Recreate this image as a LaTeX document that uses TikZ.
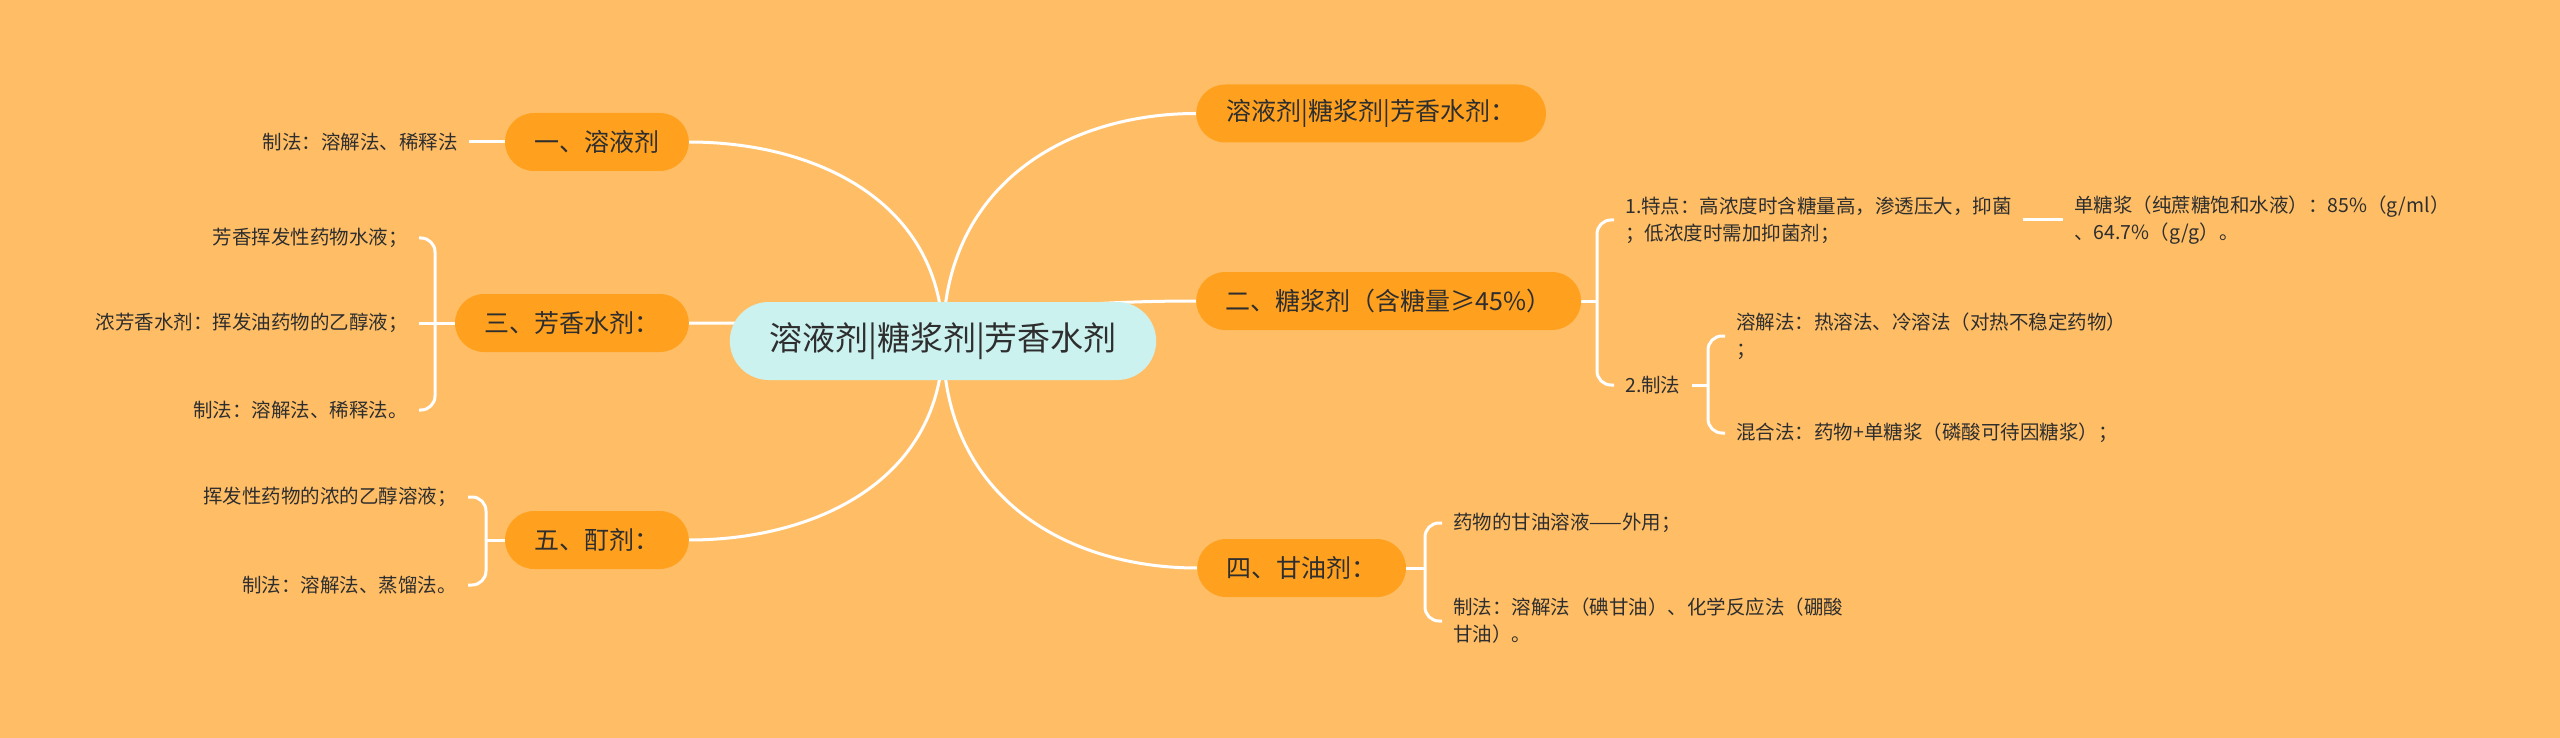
\documentclass[tikz,border=0pt]{standalone}
\usepackage{fontspec}
\setmainfont{Noto Sans CJK SC}
\usepackage{xcolor}
\usetikzlibrary{backgrounds,shapes.misc}

\definecolor{bgorange}{HTML}{FFBE66}
\definecolor{topicorange}{HTML}{FFA11F}
\definecolor{rootcyan}{HTML}{CCF2F0}
\definecolor{textdark}{HTML}{2E2E2E}

\begin{document}
\begin{tikzpicture}[
    x=1pt, y=-1pt,
    root/.style={
      rounded rectangle, fill=rootcyan, minimum width=433pt,
      minimum height=78pt, text=textdark,
      font=\fontsize{33}{40}\selectfont
    },
    topic/.style={
      rounded rectangle, fill=topicorange, minimum height=58pt,
      inner xsep=27pt, text=textdark,
      font=\fontsize{25}{30}\selectfont
    },
    leaf/.style={
      inner xsep=11pt, inner ysep=0pt, align=left, text=textdark,
      font=\fontsize{19.5}{27}\selectfont
    },
    branch/.style={draw=white, line width=3pt},
    brace/.style={branch, rounded corners=14pt}
  ]
    \useasboundingbox (0,0) rectangle (2560,738);

    % Root
    \node[root] (root) at (943,341) {溶液剂|糖浆剂|芳香水剂};

    % Left: 一
    \node[topic, anchor=east] (rongye) at (689,142) {一、溶液剂};
    \node[leaf, anchor=east] (rongyeA) at (469,142) {制法：溶解法、稀释法};

    % Left: 三
    \node[topic, anchor=east] (fangxiang) at (689,323) {三、芳香水剂：};
    \coordinate (fangxiangJ) at (435,323);
    \node[leaf, anchor=east] (fangxiangA) at (419,238) {芳香挥发性药物水液；};
    \node[leaf, anchor=east] (fangxiangB) at (419,323) {浓芳香水剂：挥发油药物的乙醇液；};
    \node[leaf, anchor=east] (fangxiangC) at (419,410) {制法：溶解法、稀释法。};

    % Left: 五
    \node[topic, anchor=east] (dingji) at (689,540) {五、酊剂：};
    \coordinate (dingjiJ) at (486,540);
    \node[leaf, anchor=east] (dingjiA) at (468,497) {挥发性药物的浓的乙醇溶液；};
    \node[leaf, anchor=east] (dingjiB) at (468,585) {制法：溶解法、蒸馏法。};

    % Right: summary
    \node[topic, anchor=west] (summary) at (1196,113.5) {溶液剂|糖浆剂|芳香水剂：};

    % Right: 二
    \node[topic, anchor=west, minimum width=376pt] (tangjiang) at (1196,301) {二、糖浆剂（含糖量≥45\%）};
    \coordinate (tangjiangJ) at (1597,301);
    \node[leaf, anchor=west] (tedian) at (1614,220) {1.特点：高浓度时含糖量高，渗透压大，抑菌\\；低浓度时需加抑菌剂；};
    \node[leaf, anchor=west] (dantang) at (2063,220) {单糖浆（纯蔗糖饱和水液）：85\%（g/ml）\\、64.7\%（g/g）。};
    \node[leaf, anchor=west] (zhifa) at (1614,385) {2.制法};
    \coordinate (zhifaJ) at (1708,385);
    \node[leaf, anchor=west] (rongjie) at (1725,336) {溶解法：热溶法、冷溶法（对热不稳定药物）\\；};
    \node[leaf, anchor=west] (hunhe) at (1725,433) {混合法：药物+单糖浆（磷酸可待因糖浆）；};

    % Right: 四
    \node[topic, anchor=west] (ganyou) at (1197,568) {四、甘油剂：};
    \coordinate (ganyouJ) at (1425,568);
    \node[leaf, anchor=west] (ganyouA) at (1442,523) {药物的甘油溶液——外用；};
    \node[leaf, anchor=west] (ganyouB) at (1442,621) {制法：溶解法（碘甘油）、化学反应法（硼酸\\甘油）。};

    \begin{scope}[on background layer]
      \fill[bgorange] (0,0) rectangle (2560,738);

      % main branches
      \draw[branch] (rongye.east) .. controls +(127,0) and +(0,-139) .. (root.center);
      \draw[branch] (fangxiang.east) .. controls +(127,0) and +(0,-13) .. (root.center);
      \draw[branch] (dingji.east) .. controls +(127,0) and +(0,139) .. (root.center);
      \draw[branch] (summary.west) .. controls +(-126,0) and +(0,-159) .. (root.center);
      \draw[branch] (tangjiang.west) .. controls +(-126,0) and +(0,-28) .. (root.center);
      \draw[branch] (ganyou.west) .. controls +(-127,0) and +(0,159) .. (root.center);

      % sub branches
      \draw[branch] (rongye.west) -- (rongyeA.east);

      \draw[branch] (fangxiang.west) -- (fangxiangJ);
      \draw[brace] (fangxiangJ) |- (fangxiangA.east);
      \draw[branch] (fangxiangJ) -- (fangxiangB.east);
      \draw[brace] (fangxiangJ) |- (fangxiangC.east);

      \draw[branch] (dingji.west) -- (dingjiJ);
      \draw[brace] (dingjiJ) |- (dingjiA.east);
      \draw[brace] (dingjiJ) |- (dingjiB.east);

      \draw[branch] (tangjiang.east) -- (tangjiangJ);
      \draw[brace] (tangjiangJ) |- (tedian.west);
      \draw[brace] (tangjiangJ) |- (zhifa.west);
      \draw[branch] (tedian.east) -- (dantang.west);

      \draw[branch] (zhifa.east) -- (zhifaJ);
      \draw[brace] (zhifaJ) |- (rongjie.west);
      \draw[brace] (zhifaJ) |- (hunhe.west);

      \draw[branch] (ganyou.east) -- (ganyouJ);
      \draw[brace] (ganyouJ) |- (ganyouA.west);
      \draw[brace] (ganyouJ) |- (ganyouB.west);
    \end{scope}
  \end{tikzpicture}
\end{document}
